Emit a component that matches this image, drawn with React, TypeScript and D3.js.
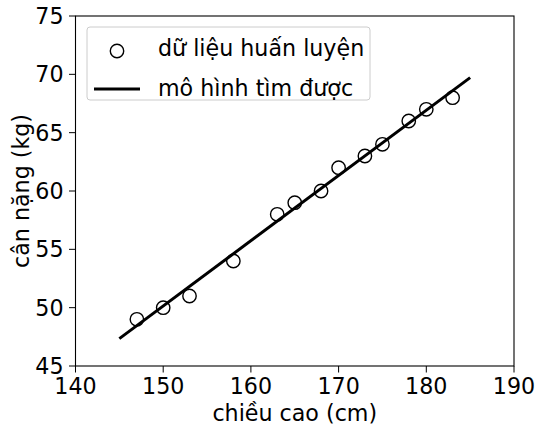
import React from "react";
import * as d3 from "d3";

// Training data: height (cm) vs weight (kg)
const heights = [147, 150, 153, 158, 163, 165, 168, 170, 173, 175, 178, 180, 183];
const weights = [49, 50, 51, 54, 58, 59, 60, 62, 63, 64, 66, 67, 68];

// Fitted linear model: weight = w0 + w1 * height
const w0 = -33.73541021;
const w1 = 0.55920496;
const lineXs = [145, 185];

const xTicks = [140, 150, 160, 170, 180, 190];
const yTicks = [45, 50, 55, 60, 65, 70, 75];

const W = 537;
const H = 427;
const m = { left: 75.5, right: 514, top: 16, bottom: 366 };
const font = "'DejaVu Sans', sans-serif";
const fs = 22.2;

export default function App() {
  const x = d3.scaleLinear().domain([140, 190]).range([m.left, m.right]);
  const y = d3.scaleLinear().domain([45, 75]).range([m.bottom, m.top]);
  const line = d3
    .line<number>()
    .x((d) => x(d))
    .y((d) => y(w0 + w1 * d));

  return (
    <svg width={W} height={H} style={{ position: "absolute", left: 0, top: 0 }} fontFamily={font} fill="#000">
      <rect width={W} height={H} fill="#fff" />
      {/* data points */}
      {heights.map((h, i) => (
        <circle key={i} cx={x(h)} cy={y(weights[i])} r={6.7} fill="none" stroke="#000" strokeWidth={1.4} />
      ))}
      {/* model line */}
      <path d={line(lineXs) ?? ""} stroke="#000" strokeWidth={3} fill="none" />
      {/* frame */}
      <rect x={m.left} y={m.top} width={m.right - m.left} height={m.bottom - m.top} fill="none" stroke="#000" strokeWidth={1.1} />
      {/* x axis */}
      {xTicks.map((t) => (
        <g key={t}>
          <line x1={x(t)} x2={x(t)} y1={m.bottom} y2={m.bottom + 6.5} stroke="#000" strokeWidth={1} />
          <text x={x(t)} y={394} textAnchor="middle" fontSize={fs} fill="#000">{t}</text>
        </g>
      ))}
      {/* y axis */}
      {yTicks.map((t) => (
        <g key={t}>
          <line x1={m.left - 6.5} x2={m.left} y1={y(t)} y2={y(t)} stroke="#000" strokeWidth={1} />
          <text x={m.left - 12} y={y(t) + 8} textAnchor="end" fontSize={fs} fill="#000">{t}</text>
        </g>
      ))}
      <text x={(m.left + m.right) / 2} y={421} textAnchor="middle" fontSize={fs} fill="#000">chiều cao (cm)</text>
      <text transform={`translate(29,${(m.top + m.bottom) / 2}) rotate(-90)`} textAnchor="middle" fontSize={fs} fill="#000">cân nặng (kg)</text>
      {/* legend */}
      <rect x={87} y={27} width={283} height={73} rx={3} fill="#fff" fillOpacity={0.8} stroke="#ccc" strokeWidth={1} />
      <circle cx={117} cy={51} r={6.7} fill="none" stroke="#000" strokeWidth={1.4} />
      <text x={158} y={56} fontSize={fs} fill="#000">dữ liệu huấn luyện</text>
      <line x1={94} x2={140} y1={89} y2={89} stroke="#000" strokeWidth={3} />
      <text x={158} y={96} fontSize={fs} fill="#000">mô hình tìm được</text>
    </svg>
  );
}
